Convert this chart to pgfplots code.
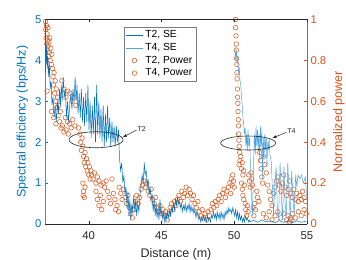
\documentclass[border=0pt]{standalone}
\usepackage{pgfplots}
\pgfplotsset{compat=1.18}
\usepackage{fontspec}
\setmainfont{Liberation Sans}
\usetikzlibrary{calc,arrows.meta}
\definecolor{seblue}{RGB}{0,114,189}
\definecolor{selight}{RGB}{77,166,225}
\definecolor{pworange}{RGB}{217,83,25}
\definecolor{axgray}{RGB}{38,38,38}
\begin{document}
\begin{tikzpicture}
\pgfplotsset{
  every axis/.append style={
    scale only axis, width=262pt, height=204.5pt,
    xmin=37, xmax=55,
    /pgf/number format/assume math mode=true,
    tick label style={font=\fontsize{11.3}{13}\selectfont},
    label style={font=\fontsize{12.5}{14}\selectfont},
    major tick length=3pt,
    tick align=inside,
  }
}
% ---------- right axis: normalized power ----------
\begin{axis}[
  axis x line=none,
  axis y line*=right,
  ymin=0, ymax=1,
  ytick={0,0.2,0.4,0.6,0.8,1},
  ytick pos=right,
  y axis line style={pworange},
  ytick style={pworange},
  yticklabel style={pworange},
  ylabel={Normalized power},
  ylabel style={pworange},
]
\addplot[only marks, mark=o, mark size=2.3pt, pworange, line width=0.5pt] coordinates {
(37.03,0.99) (37.05,0.95) (37.08,0.91) (37.10,0.97) (37.12,0.88) (37.14,0.93) (37.16,0.85) (37.18,0.90)
(37.20,0.96) (37.22,0.87) (37.24,0.82) (37.27,0.89) (37.30,0.84) (37.33,0.91) (37.36,0.80) (37.40,0.86)
(37.43,0.78) (37.47,0.83) (37.14,0.65) (37.52,0.76) (37.55,0.72) (37.58,0.68) (37.62,0.74) (37.66,0.64)
(37.70,0.70) (37.74,0.60) (37.78,0.66) (37.82,0.57) (37.86,0.62) (37.90,0.53) (37.95,0.58) (38.00,0.50)
(38.05,0.55) (38.10,0.47) (37.60,0.52) (37.75,0.49) (37.45,0.55) (38.16,0.70) (38.30,0.66) (38.44,0.62)
(38.58,0.65) (38.71,0.64) (38.85,0.60) (38.99,0.62) (39.12,0.58) (38.40,0.52) (38.55,0.50) (38.70,0.49)
(38.90,0.51) (39.05,0.48) (38.30,0.45) (38.20,0.48) (38.45,0.46) (38.60,0.44) (38.80,0.47) (39.30,0.47)
(39.40,0.44) (39.45,0.40) (39.50,0.36) (39.55,0.42) (39.60,0.38) (39.65,0.33) (39.70,0.30) (39.75,0.35)
(39.80,0.28) (39.85,0.32) (39.90,0.26) (39.95,0.30) (40.00,0.24) (40.05,0.28) (40.10,0.22) (40.15,0.26)
(39.60,0.20) (39.65,0.16) (39.70,0.13) (39.75,0.18) (39.62,0.14) (40.20,0.24) (40.30,0.22) (40.40,0.25)
(40.50,0.20) (40.60,0.23) (40.70,0.21) (40.50,0.16) (40.60,0.12) (40.70,0.09) (40.80,0.14) (40.90,0.07)
(41.00,0.11) (40.85,0.19) (41.00,0.20) (41.10,0.18) (41.20,0.21) (41.30,0.16) (41.40,0.13) (41.50,0.10)
(41.60,0.22) (41.70,0.15) (41.80,0.12) (41.85,0.07) (41.95,0.09) (42.05,0.06) (42.10,0.18) (42.20,0.15)
(42.30,0.12) (42.40,0.17) (42.50,0.13) (42.60,0.10) (42.70,0.14) (42.80,0.08) (42.90,0.05) (43.00,0.03)
(43.10,0.07) (43.20,0.11) (43.30,0.14) (43.40,0.10) (43.50,0.13) (43.60,0.17) (43.70,0.19) (43.80,0.21)
(43.90,0.18) (44.00,0.20) (44.10,0.16) (44.20,0.14) (44.30,0.17) (44.40,0.12) (44.50,0.10) (44.60,0.13)
(44.70,0.08) (44.80,0.06) (44.90,0.09) (45.00,0.05) (45.10,0.07) (45.20,0.04) (45.30,0.06) (45.40,0.02)
(45.50,0.05) (45.60,0.08) (45.70,0.10) (45.80,0.07) (45.90,0.11) (46.00,0.09) (46.10,0.12) (46.20,0.14)
(46.30,0.11) (46.40,0.16) (46.50,0.13) (46.60,0.15) (46.70,0.18) (46.80,0.14) (46.90,0.17) (47.00,0.15)
(47.10,0.12) (47.20,0.14) (47.30,0.10) (47.40,0.08) (47.50,0.11) (47.60,0.06) (47.70,0.04) (47.80,0.07)
(47.90,0.03) (48.00,0.05) (48.10,0.02) (48.20,0.06) (48.30,0.04)
};
\addplot[only marks, mark=o, mark size=2.3pt, pworange, line width=0.5pt] coordinates {
(48.40,0.07) (48.50,0.10) (48.60,0.08) (48.70,0.11) (48.80,0.09) (48.90,0.12) (49.00,0.14) (49.10,0.11)
(49.20,0.15) (49.30,0.17) (49.40,0.13) (49.50,0.16) (49.60,0.18) (49.70,0.20) (49.75,0.15) (49.80,0.22)
(49.85,0.19) (49.90,0.24) (49.95,0.21) (50.00,0.18) (50.08,1.00) (50.10,0.96) (50.12,0.92) (50.14,0.88)
(50.15,0.85) (50.16,0.81) (50.18,0.78) (50.19,0.74) (50.20,0.71) (50.22,0.66) (50.23,0.62) (50.25,0.59)
(50.26,0.55) (50.28,0.51) (50.30,0.48) (50.30,0.44) (50.32,0.41) (50.35,0.38) (50.38,0.35) (50.40,0.31)
(50.33,0.29) (50.45,0.33) (50.50,0.27) (50.55,0.30) (50.60,0.24) (50.65,0.26) (50.50,0.20) (50.55,0.17)
(50.60,0.14) (50.65,0.12) (50.70,0.19) (50.75,0.10) (50.80,0.07) (50.85,0.04) (50.90,0.09) (50.95,0.06)
(51.00,0.24) (51.05,0.21) (51.10,0.18) (51.15,0.25) (51.20,0.22) (51.25,0.19) (51.30,0.08) (51.35,0.04)
(51.40,0.10) (51.45,0.07) (51.55,0.16) (51.60,0.13) (51.70,0.11) (51.75,0.35) (51.80,0.31) (51.85,0.27)
(51.90,0.23) (51.95,0.20) (52.00,0.33) (52.10,0.29) (52.20,0.25) (52.30,0.19) (52.40,0.16) (52.50,0.12)
(52.60,0.09) (52.70,0.15) (52.80,0.18) (52.90,0.21) (53.00,0.23) (53.10,0.19) (53.20,0.16) (53.30,0.20)
(53.40,0.24) (53.50,0.18) (53.60,0.14) (53.70,0.17) (53.80,0.21) (53.90,0.15) (54.00,0.13) (54.10,0.17)
(54.20,0.12) (54.30,0.15) (54.40,0.11) (54.50,0.14) (54.60,0.12) (54.70,0.16) (54.80,0.13) (54.90,0.11)
(52.00,0.05) (52.20,0.03) (52.40,0.06) (52.60,0.02) (52.80,0.04) (53.00,0.06) (53.20,0.03) (53.40,0.05)
(53.60,0.02) (53.70,0.04) (53.80,0.01) (53.85,0.03) (53.90,0.02) (54.00,0.05) (54.20,0.03) (54.40,0.06)
(54.60,0.04) (54.80,0.07) (54.95,0.05)
};
\end{axis}
% ---------- left axis: spectral efficiency ----------
\begin{axis}[
  axis x line*=box,
  axis y line*=left,
  xtick pos=both,
  ytick pos=left,
  ymin=0, ymax=5,
  xtick={40,45,50,55},
  ytick={0,1,2,3,4,5},
  x axis line style={axgray},
  xtick style={axgray},
  xticklabel style={axgray, yshift=-4pt},
  y axis line style={seblue},
  ytick style={seblue},
  yticklabel style={seblue},
  xlabel={Distance (m)},
  xlabel style={axgray, yshift=-2pt},
  ylabel={Spectral efficiency (bps/Hz)},
  ylabel style={seblue},
  legend style={at={(0.3015,0.963)}, anchor=north west, draw=axgray!60, fill=white,
    font=\fontsize{10.3}{12}\selectfont, inner sep=1.5pt, row sep=0pt},
  legend cell align=left,
]
\addplot[seblue, line width=0.5pt, unbounded coords=jump, forget plot] coordinates {
(37.05,4.3) (37.08,3.9) (37.12,4.4) (37.16,3.8) (37.20,4.1) (37.25,3.6) (37.30,3.9) (37.36,3.3)
(37.42,3.5) (37.48,2.9) (37.55,3.1) (37.62,2.6) (37.70,2.9) (37.78,2.5) (37.85,3.0) (37.92,2.7)
(38.00,3.3) (38.06,2.9) (38.12,3.4) (38.18,3.0) (38.25,3.6) (38.32,3.1) (38.40,3.3) (38.47,2.6)
(38.55,3.0) (38.62,2.5) (38.70,2.9) (38.78,3.2) (38.85,2.8) (38.92,3.3)
(39.00,3.0) (39.07,3.6) (39.14,3.0) (39.20,3.4) (39.27,2.7) (39.35,3.2) (39.42,2.6) (39.50,3.3)
(39.57,2.5) (39.65,3.1) (39.72,2.4) (39.80,3.2) (39.87,2.5) (39.95,3.4) (40.02,2.3) (40.10,3.0)
(40.17,2.1) (40.25,2.9) (40.32,2.2) (40.40,3.1) (40.47,2.0) (40.55,3.4) (40.62,2.2) (40.70,3.0)
(40.77,2.1) (40.85,2.8) (40.92,2.0) (41.00,2.9) (41.07,1.9) (41.15,2.7) (41.22,2.0) (41.30,2.9)
(41.37,2.1) (41.45,2.6) (41.52,1.9) (41.60,2.5) (41.67,2.0) (41.75,2.4) (41.82,1.9) (41.90,2.4)
(41.97,2.0) (42.05,2.3) (42.12,1.6) (42.20,1.3) (42.27,1.5) (42.35,1.0) (42.42,1.2) (42.50,0.7)
(42.57,0.9) (42.63,0.4) (42.70,0.8) (42.77,0.2) (42.83,0.6) (42.90,0.1) (42.97,0.5) (43.03,0.3)
(43.10,0.7) (43.17,0.3) (43.23,0.6) (43.30,0.2) (43.37,0.5) (43.45,0.3) (43.52,0.7) (43.60,0.9)
(43.67,1.2) (43.75,1.0) (43.82,1.5) (43.88,1.2) (43.95,1.3) (44.02,0.9) (44.08,1.1) (44.15,0.7)
(44.22,0.9) (44.30,0.6) (44.37,0.7) (44.43,0.3) (44.50,0.6) (44.57,0.2) (44.63,0.5) (44.70,0.15)
(44.77,0.4) (44.83,0.1) (44.90,0.6) (44.97,0.2) (45.03,0.35) (45.10,0.1) (45.17,0.3) (45.23,0.05)
(45.30,0.25) (45.37,0.1) (45.43,0.3) (45.50,0.15) (45.57,0.35) (45.63,0.2) (45.70,0.4) (45.77,0.3)
(45.83,0.5) (45.90,0.35) (45.97,0.6) (46.03,0.45) (46.10,0.65) (46.17,0.5) (46.23,0.55) (46.30,0.4)
(46.37,0.5) (46.43,0.3) (46.50,0.45) (46.57,0.35) (46.63,0.5) (46.70,0.3) (46.77,0.45) (46.83,0.35)
(46.90,0.5) (46.97,0.3) (47.03,0.45) (47.10,0.3) (47.17,0.4) (47.23,0.25) (47.30,0.35) (47.37,0.15)
(47.43,0.3) (47.50,0.2) (47.57,0.1) (47.63,0.2) (47.70,0.05) (47.77,0.15) (47.83,0.08) (47.90,0.2)
(47.97,0.1) (48.03,0.15) (48.10,0.05) (48.17,0.2) (48.23,0.1) (48.30,0.15) (48.37,0.05) (48.43,0.2)
(48.50,0.15) (48.57,0.3) (48.63,0.15) (48.70,0.25) (48.77,0.1) (48.83,0.3) (48.90,0.15) (48.97,0.25)
(49.03,0.1) (49.10,0.3) (49.17,0.15) (49.23,0.25) (49.30,0.1) (49.37,0.3) (49.43,0.2) (49.50,0.35)
(49.57,0.25) (49.63,0.4) (49.70,0.3) (49.77,0.35) (49.83,0.25) (49.90,0.4) (49.97,0.3) (50.03,0.2)
(50.10,0.35) (50.17,0.15) (50.23,0.3) (50.30,0.1) (50.37,0.25) (50.43,0.1) (50.50,0.2) (50.57,0.05)
(50.63,0.15) (50.70,0.05) (50.77,0.2) (50.83,0.1) (50.90,0.15) (50.97,0.05) (51.03,0.1) (51.10,0.05)
(51.30,0.1) (51.60,0.04) (51.90,0.1) (52.20,0.05) (52.50,0.08) (52.80,0.03) (53.10,0.08) (53.40,0.04)
(53.70,0.07) (54.00,0.03) (54.30,0.08) (54.60,0.04) (54.95,0.07)
};
\addplot[selight, line width=0.5pt, unbounded coords=jump, forget plot] coordinates {
(37.02,0) (37.03,3.7) (37.5,nan)
(50.05,4.35) (50.10,4.0) (50.15,4.25) (50.20,3.95) (50.25,4.05) (50.30,3.7) (50.35,3.8) (50.40,3.5)
(50.45,3.4) (50.50,3.1) (50.55,2.9) (50.60,2.6) (50.65,2.45) (50.70,2.2) (50.75,2.35) (50.80,1.9)
(50.85,2.2) (50.90,1.8) (50.95,2.3) (51.00,1.9) (51.05,2.1) (51.10,1.6) (51.15,1.2) (51.20,0.6)
(51.25,0.2) (51.30,0.9) (51.35,1.8) (51.40,2.2) (51.45,1.7) (51.50,2.4) (51.55,1.9) (51.60,2.3)
(51.65,1.8) (51.70,2.2) (51.75,1.5) (51.80,2.4) (51.85,1.9) (51.90,2.3) (51.95,1.1) (52.00,2.1)
(52.05,1.6) (52.10,2.2) (52.15,1.8) (52.20,2.1) (52.25,1.4) (52.30,2.0) (52.35,1.8) (52.40,2.1)
(52.45,1.7) (52.55,1.5) (52.62,0.9) (52.70,0.2) (52.80,1.0) (52.88,1.4) (52.97,0.3) (53.05,0.15)
(53.15,1.5) (53.25,0.6) (53.32,0.1) (53.42,1.4) (53.50,0.5) (53.58,0.2) (53.68,1.5) (53.77,0.7)
(53.85,0.15) (53.95,1.3) (54.05,0.5) (54.12,0.25) (54.22,1.2) (54.30,0.9) (54.38,1.2) (54.50,1.1)
(54.62,1.2) (54.75,1.0) (54.88,1.15) (54.97,0.7)
};
\addlegendimage{color=seblue, draw=seblue, line width=0.6pt}
\addlegendentry{T2, SE}
\addlegendimage{color=selight, draw=selight, line width=0.6pt}
\addlegendentry{T4, SE}
\addlegendimage{only marks, mark=o, mark size=2.3pt, color=pworange, line width=0.5pt}
\addlegendentry{T2, Power}
\addlegendimage{only marks, mark=o, mark size=2.3pt, color=pworange, line width=0.5pt}
\addlegendentry{T4, Power}
% annotations
\draw[axgray, line width=0.6pt] (axis cs:40.51,2.06) ellipse [x radius=27pt, y radius=8pt];
\draw[axgray, line width=0.5pt, -{Latex[length=4pt,width=3pt]}] (axis cs:43.30,2.30) -- (axis cs:42.34,2.12);
\node[anchor=west, inner sep=0.5pt, font=\fontsize{7}{8}\selectfont, axgray] at (axis cs:43.32,2.32) {T2};
\draw[axgray, line width=0.6pt] (axis cs:50.96,1.98) ellipse [x radius=27.5pt, y radius=7pt];
\draw[axgray, line width=0.5pt, -{Latex[length=4pt,width=3pt]}] (axis cs:53.58,2.24) -- (axis cs:52.62,2.10);
\node[anchor=west, inner sep=0.5pt, font=\fontsize{7}{8}\selectfont, axgray] at (axis cs:53.60,2.26) {T4};
\end{axis}
\pgfresetboundingbox
\path (current axis.south west) ++(-45pt,-36pt) rectangle ++(346pt,260pt);
\end{tikzpicture}
\end{document}
